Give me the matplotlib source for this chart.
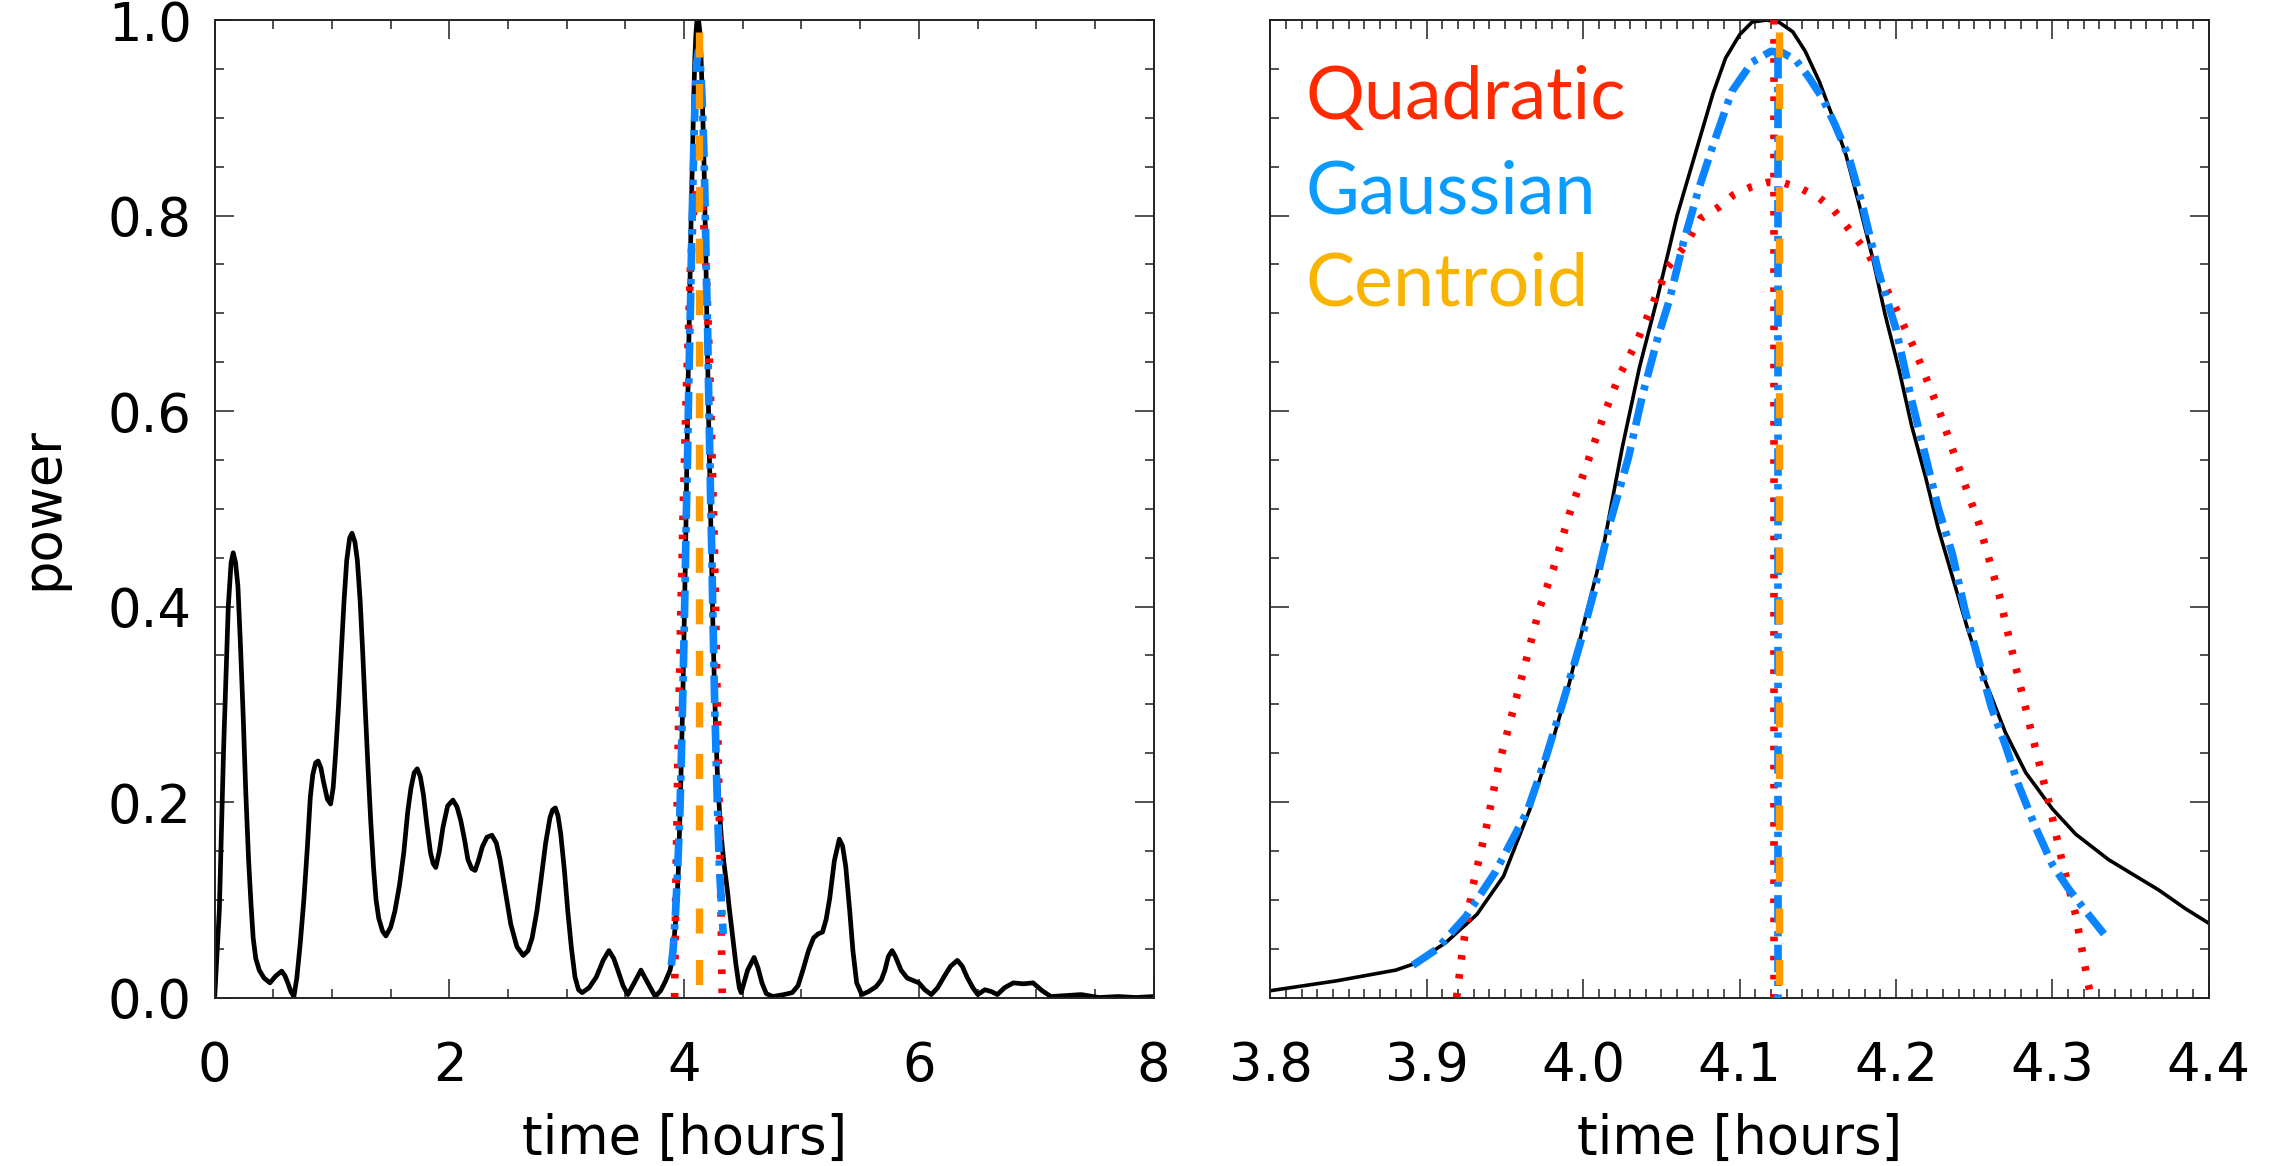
import matplotlib
matplotlib.use("Agg")
import matplotlib.pyplot as plt
from matplotlib.ticker import MultipleLocator, FixedLocator

# ---------------- data ----------------
time_h = [0.000, 0.040, 0.076, 0.116, 0.140, 0.158, 0.178, 0.198, 0.220, 0.243, 0.265, 0.289,
          0.310, 0.328, 0.350, 0.380, 0.420, 0.471, 0.520, 0.571, 0.600, 0.623, 0.650, 0.675,
          0.700, 0.729, 0.760, 0.790, 0.815, 0.836, 0.860, 0.881, 0.905, 0.927, 0.960, 0.988,
          1.010, 1.033, 1.056, 1.079, 1.102, 1.125, 1.150, 1.170, 1.195, 1.216, 1.240, 1.261,
          1.285, 1.307, 1.330, 1.353, 1.375, 1.398, 1.430, 1.459, 1.500, 1.535, 1.575, 1.611,
          1.645, 1.672, 1.700, 1.726, 1.752, 1.778, 1.810, 1.839, 1.862, 1.884, 1.915, 1.945,
          1.985, 2.030, 2.065, 2.097, 2.128, 2.158, 2.190, 2.219, 2.250, 2.280, 2.320, 2.362,
          2.400, 2.432, 2.475, 2.523, 2.575, 2.629, 2.670, 2.705, 2.745, 2.781, 2.820, 2.857,
          2.880, 2.903, 2.925, 2.948, 2.980, 3.009, 3.040, 3.070, 3.100, 3.131, 3.190, 3.252,
          3.310, 3.359, 3.400, 3.435, 3.480, 3.520, 3.575, 3.632, 3.690, 3.754, 3.800, 3.842,
          3.880, 3.891, 3.912, 3.932, 3.949, 3.966, 3.981, 3.991, 4.000, 4.013, 4.025, 4.036,
          4.047, 4.060, 4.074, 4.083, 4.091, 4.100, 4.108, 4.117, 4.125, 4.134, 4.142, 4.151,
          4.159, 4.168, 4.176, 4.185, 4.193, 4.202, 4.210, 4.219, 4.227, 4.236, 4.246, 4.257,
          4.270, 4.283, 4.300, 4.315, 4.336, 4.368, 4.385, 4.400, 4.440, 4.470, 4.486, 4.541,
          4.596, 4.630, 4.663, 4.700, 4.754, 4.850, 4.921, 4.970, 5.012, 5.060, 5.103, 5.140,
          5.179, 5.210, 5.240, 5.280, 5.322, 5.350, 5.377, 5.410, 5.438, 5.470, 5.514, 5.570,
          5.635, 5.680, 5.711, 5.740, 5.772, 5.800, 5.848, 5.900, 5.939, 6.000, 6.050, 6.106,
          6.160, 6.213, 6.270, 6.328, 6.370, 6.410, 6.460, 6.502, 6.562, 6.620, 6.669, 6.730,
          6.805, 6.890, 6.973, 7.050, 7.125, 7.250, 7.383, 7.535, 7.700, 7.850, 8.000]
power = [0.000, 0.090, 0.254, 0.400, 0.445, 0.455, 0.445, 0.421, 0.360, 0.288, 0.210, 0.141,
         0.095, 0.061, 0.040, 0.028, 0.020, 0.015, 0.022, 0.027, 0.022, 0.015, 0.006, 0.001,
         0.020, 0.055, 0.100, 0.154, 0.205, 0.228, 0.240, 0.242, 0.235, 0.221, 0.203, 0.198,
         0.215, 0.254, 0.300, 0.354, 0.405, 0.447, 0.470, 0.475, 0.466, 0.447, 0.405, 0.354,
         0.290, 0.234, 0.180, 0.134, 0.100, 0.081, 0.068, 0.063, 0.072, 0.088, 0.115, 0.148,
         0.190, 0.214, 0.230, 0.234, 0.226, 0.208, 0.175, 0.148, 0.137, 0.133, 0.150, 0.174,
         0.196, 0.202, 0.195, 0.181, 0.162, 0.141, 0.132, 0.130, 0.141, 0.154, 0.164, 0.166,
         0.158, 0.141, 0.110, 0.075, 0.052, 0.043, 0.048, 0.061, 0.088, 0.121, 0.158, 0.184,
         0.192, 0.194, 0.186, 0.168, 0.130, 0.088, 0.050, 0.021, 0.008, 0.005, 0.010, 0.021,
         0.038, 0.048, 0.040, 0.028, 0.012, 0.003, 0.015, 0.028, 0.015, 0.001, 0.007, 0.017,
         0.028, 0.034, 0.056, 0.085, 0.124, 0.193, 0.266, 0.321, 0.380, 0.462, 0.563, 0.645,
         0.713, 0.800, 0.876, 0.925, 0.961, 0.985, 0.998, 1.000, 0.998, 0.988, 0.968, 0.937,
         0.903, 0.862, 0.814, 0.757, 0.699, 0.642, 0.585, 0.532, 0.480, 0.431, 0.376, 0.324,
         0.271, 0.230, 0.193, 0.167, 0.141, 0.110, 0.091, 0.076, 0.035, 0.010, 0.005, 0.028,
         0.041, 0.030, 0.015, 0.004, 0.001, 0.003, 0.005, 0.012, 0.028, 0.048, 0.061, 0.065,
         0.067, 0.080, 0.101, 0.140, 0.162, 0.155, 0.134, 0.090, 0.048, 0.015, 0.003, 0.006,
         0.011, 0.018, 0.028, 0.042, 0.048, 0.042, 0.028, 0.020, 0.018, 0.015, 0.008, 0.003,
         0.010, 0.021, 0.032, 0.038, 0.032, 0.021, 0.010, 0.003, 0.008, 0.006, 0.003, 0.010,
         0.015, 0.014, 0.015, 0.007, 0.001, 0.002, 0.003, 0.000, 0.001, 0.000, 0.001]

quad_t = [3.919, 3.923, 3.929, 3.938, 3.946, 3.955, 3.964, 3.972, 3.981, 3.991, 4.002, 4.013,
          4.023, 4.034, 4.042, 4.054, 4.065, 4.075, 4.087, 4.096, 4.107, 4.118, 4.129, 4.140,
          4.151, 4.160, 4.168, 4.183, 4.197, 4.212, 4.227, 4.240, 4.253, 4.266, 4.276, 4.287,
          4.298, 4.306, 4.315, 4.321, 4.323, 4.325]
quad_p = [0.000, 0.051, 0.111, 0.174, 0.238, 0.293, 0.348, 0.398, 0.439, 0.494, 0.544, 0.595,
          0.636, 0.670, 0.700, 0.747, 0.769, 0.797, 0.809, 0.821, 0.829, 0.834, 0.833, 0.827,
          0.818, 0.806, 0.790, 0.759, 0.715, 0.663, 0.603, 0.543, 0.485, 0.412, 0.342, 0.269,
          0.198, 0.141, 0.084, 0.031, 0.013, 0.000]

gauss_t = [3.891, 3.906, 3.925, 3.944, 3.964, 3.976, 3.987, 3.998, 4.007, 4.017, 4.029, 4.038,
           4.048, 4.055, 4.064, 4.074, 4.083, 4.095, 4.108, 4.120, 4.127, 4.136, 4.144, 4.153,
           4.161, 4.170, 4.178, 4.189, 4.200, 4.210, 4.219, 4.227, 4.236, 4.244, 4.253, 4.261,
           4.270, 4.278, 4.289, 4.300, 4.310, 4.321, 4.333]
gauss_p = [0.033, 0.049, 0.083, 0.129, 0.190, 0.245, 0.302, 0.362, 0.416, 0.485, 0.553, 0.617,
           0.677, 0.713, 0.772, 0.828, 0.872, 0.927, 0.957, 0.968, 0.967, 0.959, 0.942, 0.920,
           0.893, 0.859, 0.814, 0.741, 0.684, 0.611, 0.553, 0.501, 0.454, 0.397, 0.344, 0.297,
           0.258, 0.219, 0.175, 0.136, 0.112, 0.089, 0.065]

# peak positions from each method and the heights of their markers
method_names = ["Quadratic", "Gaussian", "Centroid"]
peak_t = [4.1219, 4.1245, 4.1249]
peak_top = [1.0, 0.968, 0.988]

left_xticks = [0, 2, 4, 6, 8]
right_xticks = [3.8, 3.9, 4.0, 4.1, 4.2, 4.3, 4.4]
yticks = [0.0, 0.2, 0.4, 0.6, 0.8, 1.0]

# ---------------- styles ----------------
RED = "#ff0000"
BLUE = "#0a84ff"
ORANGE = "#ff9900"
TXT_COL = ["#ff2a00", "#0a9cff", "#f8b400"]
DOT = (0, (0.6, 1.9))
DASHDOT = (0, (3.6, 1.1, 0.7, 1.1))
DASH = (0, (3.4, 3.6))
RED_LW = 5.5
BLUE_LW = 5.5
ORANGE_LW = 5.3

plt.rcParams["font.family"] = ["DejaVu Sans"]
fig = plt.figure(figsize=(22.74, 11.66), dpi=100)
axL = fig.add_axes([0.0944, 0.1445, 0.4129, 0.8383])
axR = fig.add_axes([0.5587, 0.1445, 0.4126, 0.8383])


def style_axes(ax):
    for s in ax.spines.values():
        s.set_linewidth(1.4)
        s.set_color("#222222")
    ax.tick_params(which="both", direction="in", top=True, right=True,
                   width=1.1, color="#222222")
    ax.tick_params(which="major", length=13.7)
    ax.tick_params(which="minor", length=6.7)
    ax.tick_params(axis="x", which="major", pad=30.8, labelsize=38)
    ax.tick_params(axis="y", which="major", pad=16.5, labelsize=38)


def draw(ax, black_lw, all_markers):
    ax.plot(time_h, power, color="black", lw=black_lw, zorder=2)
    ax.plot(quad_t, quad_p, color=RED, lw=RED_LW, linestyle=DOT, dash_capstyle="butt", zorder=3)
    ax.plot(gauss_t, gauss_p, color=BLUE, lw=BLUE_LW, linestyle=DASHDOT,
            dash_capstyle="butt", zorder=4)
    if all_markers:
        ax.plot([peak_t[0], peak_t[0]], [peak_top[0], 0], color=RED, lw=RED_LW, linestyle=DOT,
                dash_capstyle="butt", zorder=3)
        ax.plot([peak_t[1], peak_t[1]], [peak_top[1], 0], color=BLUE, lw=BLUE_LW,
                linestyle=DASHDOT, dash_capstyle="butt", zorder=4)
    ax.plot([peak_t[2], peak_t[2]], [peak_top[2], 0], color=ORANGE, lw=ORANGE_LW,
            linestyle=DASH, dash_capstyle="butt", zorder=5)


# left panel
draw(axL, 3.4, False)
axL.set_xlim(0, 8)
axL.set_ylim(0, 1.0)
style_axes(axL)
axL.xaxis.set_major_locator(FixedLocator(left_xticks))
axL.xaxis.set_minor_locator(MultipleLocator(0.5))
axL.yaxis.set_major_locator(FixedLocator(yticks))
axL.yaxis.set_minor_locator(MultipleLocator(0.05))
axL.set_xticklabels([str(v) for v in left_xticks])
axL.set_yticklabels([f"{v:.1f}" for v in yticks])
axL.set_xlabel("time [hours]", fontsize=38)
axL.xaxis.set_label_coords(0.5, -0.118)
axL.set_ylabel("power", fontsize=38, va="bottom")
axL.yaxis.set_label_coords(-0.156, 0.5)

# right panel
draw(axR, 2.6, True)
axR.set_xlim(3.8, 4.4)
axR.set_ylim(0, 1.0)
style_axes(axR)
axR.xaxis.set_major_locator(FixedLocator(right_xticks))
axR.xaxis.set_minor_locator(MultipleLocator(0.01))
axR.yaxis.set_major_locator(FixedLocator(yticks))
axR.yaxis.set_minor_locator(MultipleLocator(0.05))
axR.set_xticklabels([f"{v:.1f}" for v in right_xticks])
axR.set_yticklabels([])
axR.set_xlabel("time [hours]", fontsize=38)
axR.xaxis.set_label_coords(0.5, -0.118)

# method labels
for name, col, yb in zip(method_names, TXT_COL, [0.8987, 0.8026, 0.7084]):
    axR.text(0.0378, yb, name, transform=axR.transAxes, color=col, fontsize=53,
             family=["Lato", "DejaVu Sans"], ha="left", va="baseline")

fig.savefig("out.png", dpi=100)
